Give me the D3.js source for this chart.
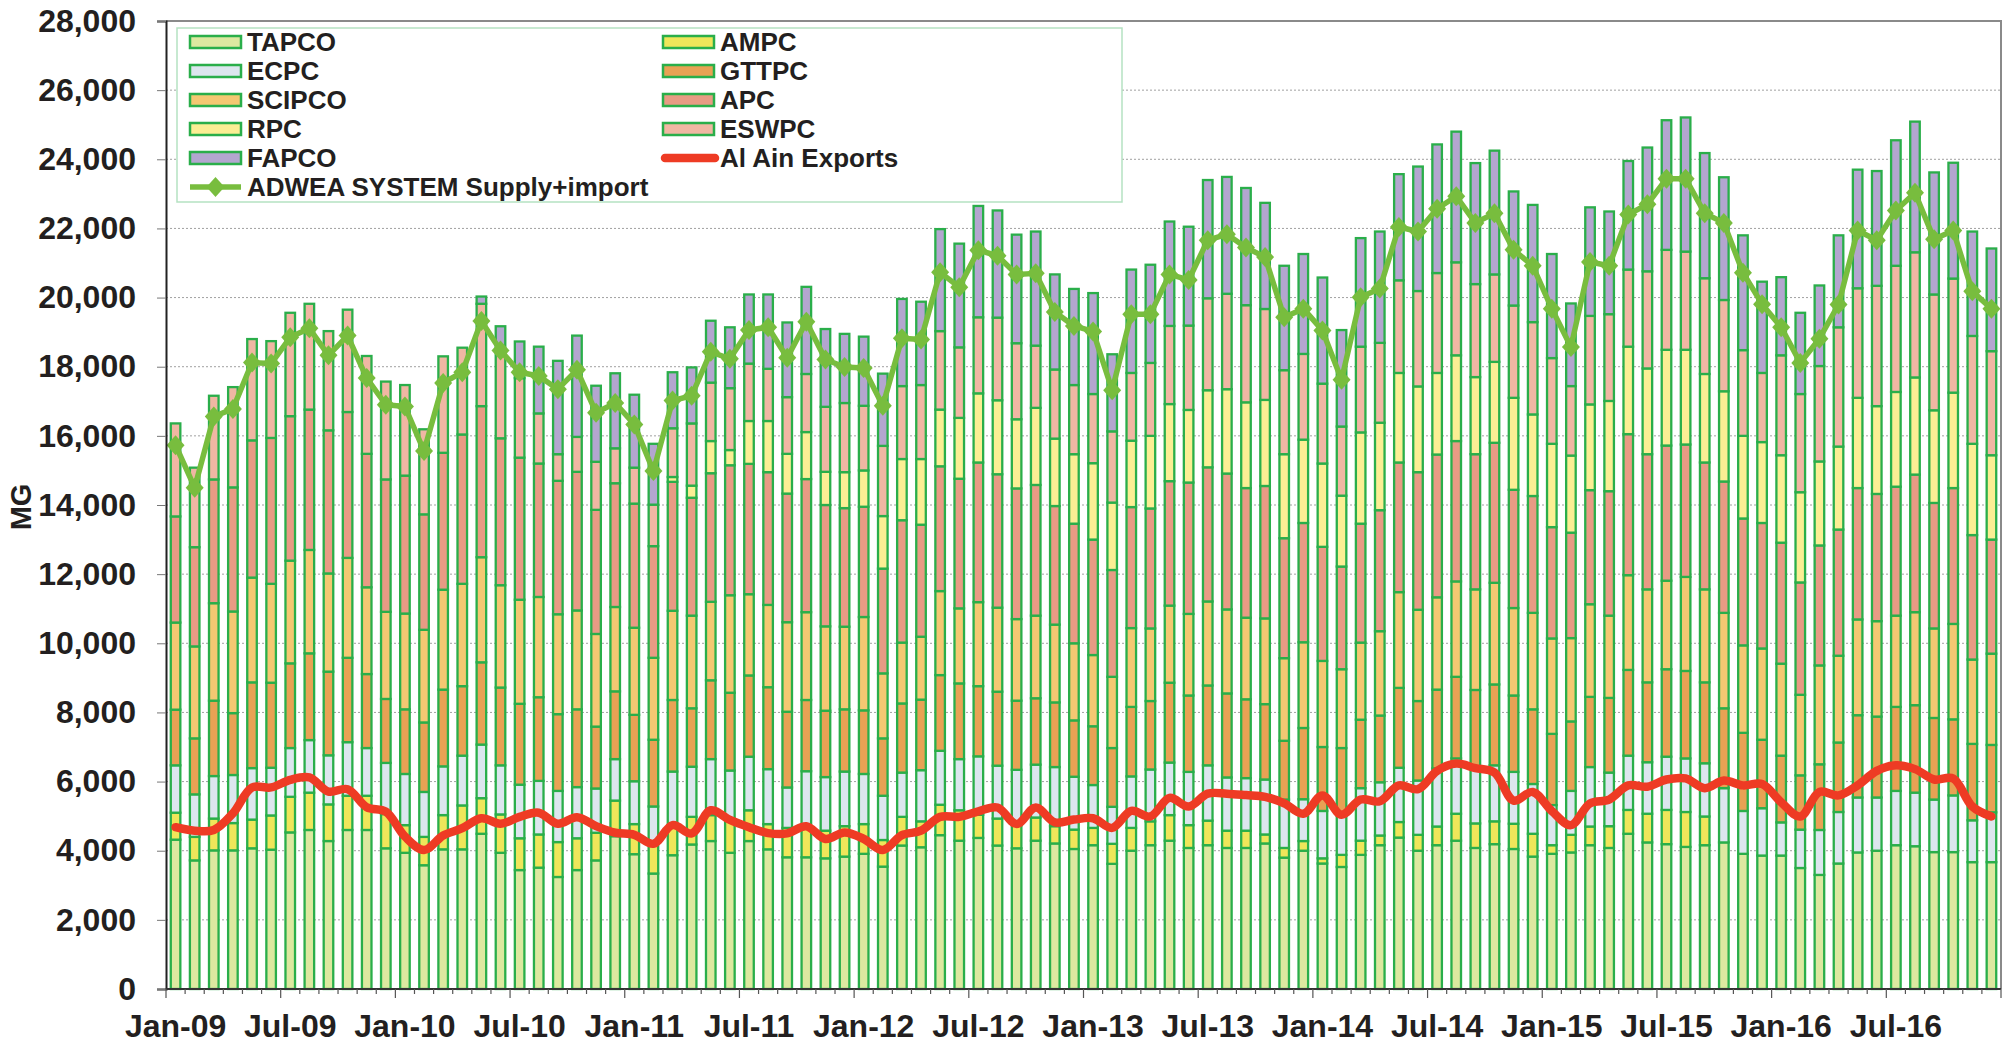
<!DOCTYPE html>
<html>
<head>
<meta charset="utf-8">
<script src="https://cdn.jsdelivr.net/npm/d3@7"></script>
<style>
body{margin:0;background:#fff;}
#canvas{width:2009px;height:1044px;}
text{font-family:"Liberation Sans",Arial,sans-serif;font-weight:bold;fill:#231f20;}
</style>
</head>
<body>
<div id="canvas"></div>
<script>
var months = [
 'Jan-09','Feb-09','Mar-09','Apr-09','May-09','Jun-09','Jul-09','Aug-09','Sep-09','Oct-09','Nov-09','Dec-09',
 'Jan-10','Feb-10','Mar-10','Apr-10','May-10','Jun-10','Jul-10','Aug-10','Sep-10','Oct-10','Nov-10','Dec-10',
 'Jan-11','Feb-11','Mar-11','Apr-11','May-11','Jun-11','Jul-11','Aug-11','Sep-11','Oct-11','Nov-11','Dec-11',
 'Jan-12','Feb-12','Mar-12','Apr-12','May-12','Jun-12','Jul-12','Aug-12','Sep-12','Oct-12','Nov-12','Dec-12',
 'Jan-13','Feb-13','Mar-13','Apr-13','May-13','Jun-13','Jul-13','Aug-13','Sep-13','Oct-13','Nov-13','Dec-13',
 'Jan-14','Feb-14','Mar-14','Apr-14','May-14','Jun-14','Jul-14','Aug-14','Sep-14','Oct-14','Nov-14','Dec-14',
 'Jan-15','Feb-15','Mar-15','Apr-15','May-15','Jun-15','Jul-15','Aug-15','Sep-15','Oct-15','Nov-15','Dec-15',
 'Jan-16','Feb-16','Mar-16','Apr-16','May-16','Jun-16','Jul-16','Aug-16','Sep-16','Oct-16','Nov-16','Dec-16'];

var tapco = [4320,3720,4010,4010,4070,4030,4530,4600,4280,4600,4600,4070,
 3940,3580,4040,4040,4490,3940,3440,3510,3240,3440,3720,4420,
 3900,3340,3870,4180,4280,3940,4280,4040,3810,3810,3780,3830,
 3910,3540,4150,4100,4450,4290,4370,4150,4070,4290,4210,4050,
 4160,3620,4000,4160,4290,4080,4160,4080,4080,4210,3800,4000,
 3630,3530,3880,4160,4380,4000,4160,4290,4080,4190,4050,3830,
 3910,3950,4160,4080,4490,4240,4190,4110,4160,4240,3910,3860,
 3860,3500,3300,3630,3950,4000,4160,4130,3960,3960,3670,3670];
var ampc = [780,680,920,790,830,990,1030,1080,1060,990,990,990,
 800,820,990,1270,1030,1110,920,960,1010,920,800,1030,
 870,870,870,800,750,940,890,730,850,890,800,880,
 860,770,830,750,880,880,670,780,670,670,500,560,
 500,580,660,690,740,660,710,500,500,260,280,280,
 150,350,410,280,450,460,540,780,710,660,730,660,
 250,510,540,630,690,830,990,1010,830,0,0,0,
 0,0,0,0,0,0,0,0,0,0,0,0];
var ecpc = [1370,1230,1230,1390,1490,1380,1410,1520,1420,1550,1380,1480,
 1480,1300,1410,1440,1550,1420,1550,1550,1480,1480,1280,1200,
 1240,1070,1550,1450,1620,1440,1550,1590,1170,1600,1550,1580,
 1450,1280,1280,1480,1560,1480,1690,1530,1600,1530,1710,1530,
 1240,1070,1490,1500,1520,1540,1600,1540,1520,1590,1400,1210,
 1370,1140,1520,1540,1570,1570,1680,1600,1600,1620,1500,1440,
 1160,1270,1720,1550,1570,1490,1540,1550,1540,1570,1240,1370,
 960,1110,1300,1490,1590,1540,1570,1550,1520,1640,1210,1440];
var gttpc = [1610,1620,2180,1790,2480,2460,2450,2510,2420,2440,2140,1850,
 1870,2010,2220,2010,2380,2250,2340,2420,2220,2250,1790,1960,
 1920,1930,2070,1690,2280,2250,2350,2370,2190,2060,1920,1800,
 1840,1660,2000,2040,2190,2190,2030,2140,2000,1920,1870,1630,
 1700,1700,2010,1980,2310,2210,2310,2430,2280,2180,1700,2060,
 1850,1950,1980,1930,2310,2300,2280,2360,2260,2340,2210,2160,
 2060,2010,2030,2160,2480,2310,2530,2530,2340,2310,2260,1980,
 1930,1570,1900,2010,2380,2340,2430,2530,2360,2200,2210,1950];
var scipco = [2520,2660,2820,2940,3030,2860,2970,2990,2840,2890,2510,2520,
 2770,2680,2890,2960,3040,2960,3010,2900,2890,2860,2680,2440,
 2520,2370,2580,2680,2270,2820,2350,2380,2590,2540,2440,2390,
 2700,1880,1760,1820,2430,2170,2430,2430,2360,2390,2250,2230,
 2060,2060,2280,2100,2230,2360,2430,2430,2360,2480,2390,2480,
 2490,2280,2230,2440,2770,2640,2670,2760,2910,2940,2530,2790,
 2760,2410,2680,2380,2740,2690,2560,2720,2690,2760,2530,2640,
 2660,2330,2860,2510,2770,2760,2640,2690,2590,2760,2440,2640];
var apc = [3070,2870,3580,3590,3970,4220,4180,4060,4140,4220,3860,3830,
 3990,3340,3960,4320,4370,4250,4110,3860,3860,4010,3590,3580,
 3590,3230,3730,3410,3720,3760,3770,3840,3720,3850,3510,3430,
 3190,3030,3540,3240,3610,3750,4040,3860,3780,3780,3430,3460,
 3340,3090,3500,3470,3600,3800,3880,3930,3750,3830,3470,3450,
 3300,2970,3440,3500,3750,3980,4130,4060,3910,4050,3420,3380,
 3220,3050,3300,3600,4080,3910,3910,3830,3670,3800,3670,3630,
 3500,3250,3470,3650,3800,3680,3730,3980,3630,3930,3600,3300];
var rpc = [0,0,0,0,0,0,0,0,0,0,0,0,
 0,0,0,0,0,0,0,0,0,0,0,0,
 0,0,140,350,930,440,1240,1480,1150,1360,960,1040,
 1050,1520,1770,1900,1640,1760,2000,2140,2000,2230,1950,2010,
 2210,1950,1920,2100,2230,2100,2230,2440,2480,2490,2430,2410,
 2410,2050,2640,2530,2590,2480,2360,2480,2230,2340,2660,2360,
 2410,2230,2480,2610,2530,2480,2770,2740,2560,2610,2390,2340,
 2530,2610,2430,2400,2610,2540,2740,2810,2680,2760,2640,2440];
var eswpc = [2690,2300,2420,2900,2930,2800,2990,3060,2870,2960,2830,2830,
 2620,2460,2790,2510,2960,2520,2300,1450,770,1010,1390,1010,
 1040,1200,1410,1800,1690,1790,1660,1510,1640,1680,1880,2000,
 1870,2030,2110,2140,2270,2040,2200,2390,2200,1800,2000,2000,
 2000,2060,1960,2110,2260,2440,2660,2760,2810,2630,2430,2480,
 2310,2000,2480,2310,2680,2760,2890,2690,2690,2530,2670,2670,
 2480,2010,2560,2510,2230,2810,2890,2840,2770,2640,2480,2000,
 2890,2840,2760,3450,3170,3480,3650,3620,3350,3300,3120,3010];
var fapco = [0,0,0,0,0,0,0,0,0,0,0,0,
 0,0,0,0,210,720,1060,1930,2700,2930,2200,2170,
 2110,1760,1620,1620,1790,1760,2000,2150,2160,2520,2250,2000,
 2000,2090,2520,2410,2950,3000,3220,3100,3140,3300,2750,2780,
 2920,2230,2990,2840,3020,2860,3420,3380,3390,3070,3020,2890,
 3070,2790,3140,3220,3070,3600,3720,3780,3500,3580,3300,3390,
 3010,2390,3140,2970,3140,3580,3750,3880,3620,3550,3320,2640,
 2260,2350,2330,2660,3430,3320,3630,3780,3530,3350,3020,2970];
var adwea = [15730,14500,16560,16780,18120,18090,18850,19110,18330,18900,17670,16900,
 16850,15560,17530,17840,19320,18470,17840,17730,17350,17910,16670,16950,
 16330,14980,17020,17160,18430,18230,19060,19140,18260,19300,18210,17990,
 17960,16870,18820,18790,20730,20300,21370,21210,20670,20700,19580,19180,
 19020,17320,19520,19520,20670,20510,21660,21830,21450,21170,19430,19680,
 19050,17620,20010,20260,22040,21910,22570,22930,22160,22440,21380,20920,
 19680,18570,21030,20920,22400,22700,23440,23440,22440,22160,20720,19810,
 19140,18110,18810,19800,21940,21660,22520,23030,21690,21940,20180,19680];
var alain = [4680,4580,4600,5080,5830,5830,6050,6120,5710,5780,5260,5130,
 4410,4020,4440,4650,4940,4780,4980,5100,4780,4970,4710,4520,
 4460,4200,4740,4500,5170,4890,4680,4510,4500,4710,4340,4530,
 4340,4020,4450,4580,4980,4980,5140,5250,4770,5250,4820,4900,
 4940,4660,5150,4990,5530,5280,5650,5650,5610,5560,5370,5070,
 5600,5040,5480,5430,5890,5780,6310,6520,6390,6260,5450,5700,
 5150,4740,5370,5480,5890,5850,6060,6090,5810,6030,5890,5930,
 5400,4990,5700,5600,5890,6310,6470,6360,6060,6090,5280,4990];

var seriesNames = ['TAPCO','AMPC','ECPC','GTTPC','SCIPCO','APC','RPC','ESWPC','FAPCO'];
var seriesValues = [tapco, ampc, ecpc, gttpc, scipco, apc, rpc, eswpc, fapco];
var seriesColors = ['#dde8a0','#efe65a','#dce6ee','#e8a254','#f4c872','#e89b84','#fbee94','#f0b7a3','#b3a6cf'];
var yTicks = [0,2000,4000,6000,8000,10000,12000,14000,16000,18000,20000,22000,24000,26000,28000];

var barStroke = '#2aae4a',
    adweaColor = '#78bd3e',
    alainColor = '#ee3b24';

var canvasWidth = 2009,
    canvasHeight = 1044;

var margin = {t:21,r:8,b:55,l:166};
var plotWidth = canvasWidth - margin.l - margin.r,
    plotHeight = canvasHeight - margin.t - margin.b;

var svg = d3.select('#canvas')
	.append('svg')
	.attr('width', canvasWidth)
	.attr('height', canvasHeight);

var plot = svg.append('g')
	.attr('transform', 'translate('+margin.l+','+margin.t+')');

var x = d3.scaleBand()
    .domain(months)
    .range([0, plotWidth])
    .paddingInner(0.5)
    .paddingOuter(0.25);

var y = d3.scaleLinear()
    .domain([0, 28000])
    .range([plotHeight, 0]);

var cx = function(m){ return x(m) + x.bandwidth()/2; };

// gridlines
plot.selectAll('.grid')
    .data(yTicks.slice(1, -1))
    .enter().append('line')
    .attr('x1', 0).attr('x2', plotWidth)
    .attr('y1', function(d){ return y(d); })
    .attr('y2', function(d){ return y(d); })
    .style('stroke', '#a0a0a0')
    .style('stroke-width', 1)
    .style('stroke-dasharray', '2,2');

// plot area border top/right
plot.append('path')
    .attr('d', 'M0,' + y(28000) + 'H' + plotWidth + 'V' + y(0))
    .style('fill', 'none')
    .style('stroke', '#8a8a8a')
    .style('stroke-width', 2);

var table = months.map(function(m, i){
    var row = {month: m};
    seriesNames.forEach(function(s, j){ row[s] = seriesValues[j][i]; });
    return row;
});

var stacked = d3.stack().keys(seriesNames)(table);

plot.selectAll('.layer')
    .data(stacked)
    .enter().append('g')
    .attr('class', 'layer')
    .style('fill', function(d, i){ return seriesColors[i]; })
    .selectAll('rect')
    .data(function(d){ return d.filter(function(p){ return p[1] - p[0] > 0; }); })
    .enter().append('rect')
    .attr('x', function(d){ return x(d.data.month); })
    .attr('y', function(d){ return y(d[1]); })
    .attr('width', x.bandwidth())
    .attr('height', function(d){ return y(d[0]) - y(d[1]); })
    .style('stroke', barStroke)
    .style('stroke-width', 2.3);

// ADWEA supply line with diamonds
var adweaLine = d3.line()
    .x(function(d, i){ return cx(months[i]); })
    .y(function(d){ return y(d); });

plot.append('path')
    .datum(adwea)
    .attr('d', adweaLine)
    .style('fill', 'none')
    .style('stroke', adweaColor)
    .style('stroke-width', 5.5)
    .style('stroke-linejoin', 'round');

var diamond = 'M0,-10L9,0L0,10L-9,0Z';

plot.selectAll('.marker')
    .data(adwea)
    .enter().append('path')
    .attr('d', diamond)
    .attr('transform', function(d, i){ return 'translate(' + cx(months[i]) + ',' + y(d) + ')'; })
    .style('fill', adweaColor);

// Al Ain exports, smoothed
var alainLine = d3.line()
    .curve(d3.curveCatmullRom)
    .x(function(d, i){ return cx(months[i]); })
    .y(function(d){ return y(d); });

plot.append('path')
    .datum(alain)
    .attr('d', alainLine)
    .style('fill', 'none')
    .style('stroke', alainColor)
    .style('stroke-width', 8.5)
    .style('stroke-linecap', 'round')
    .style('stroke-linejoin', 'round');

// y axis
var yAxis = plot.append('g')
    .call(d3.axisLeft(y).tickValues(yTicks).tickSize(9).tickPadding(21).tickFormat(d3.format(',')));
yAxis.select('.domain').style('stroke', '#222').style('stroke-width', 2);
yAxis.selectAll('.tick line').style('stroke', '#777');
yAxis.selectAll('text')
    .style('font-size', '32px')
    .style('font-family', '"Liberation Sans", Arial, sans-serif')
    .style('font-weight', 'bold')
    .style('fill', '#231f20');

// x axis
plot.append('line')
    .attr('x1', 0).attr('x2', plotWidth)
    .attr('y1', plotHeight).attr('y2', plotHeight)
    .style('stroke', '#333')
    .style('stroke-width', 2);

plot.selectAll('.xtick')
    .data(d3.range(months.length + 1))
    .enter().append('line')
    .attr('x1', function(i){ return i * x.step(); })
    .attr('x2', function(i){ return i * x.step(); })
    .attr('y1', plotHeight)
    .attr('y2', function(i){ return plotHeight + (i % 6 === 0 ? 9 : 5); })
    .style('stroke', '#555')
    .style('stroke-width', 1.2);

plot.selectAll('.xlabel')
    .data(months.filter(function(m, i){ return i % 6 === 0; }))
    .enter().append('text')
    .attr('x', function(m){ return cx(m); })
    .attr('y', plotHeight + 48)
    .attr('text-anchor', 'middle')
    .style('font-size', '32px')
    .text(function(m){ return m; });

svg.append('text')
    .attr('transform', 'translate(21,507) rotate(-90)')
    .attr('text-anchor', 'middle')
    .attr('dominant-baseline', 'central')
    .style('font-size', '29px')
    .text('MG');

// legend
var legend = svg.append('g');

legend.append('rect')
    .attr('x', 177).attr('y', 28)
    .attr('width', 945).attr('height', 174)
    .style('fill', '#fff')
    .style('stroke', '#b5e2c2')
    .style('stroke-width', 1.5);

var legendItems = seriesNames.map(function(s, i){ return {name: s, type: 'bar', color: seriesColors[i]}; });
legendItems.push({name: 'Al Ain Exports', type: 'red'});
legendItems.push({name: 'ADWEA SYSTEM Supply+import', type: 'green'});

var colX = [190, 663];

var item = legend.selectAll('.item')
    .data(legendItems)
    .enter().append('g')
    .attr('transform', function(d, i){ return 'translate(' + colX[i % 2] + ',' + (42 + Math.floor(i / 2) * 29) + ')'; });

item.filter(function(d){ return d.type === 'bar'; })
    .append('rect')
    .attr('x', 0).attr('y', -6)
    .attr('width', 51).attr('height', 12)
    .style('fill', function(d){ return d.color; })
    .style('stroke', barStroke)
    .style('stroke-width', 2.5);

item.filter(function(d){ return d.type === 'red'; })
    .append('line')
    .attr('x1', 2).attr('x2', 52)
    .style('stroke', alainColor)
    .style('stroke-width', 8.5)
    .style('stroke-linecap', 'round');

var g = item.filter(function(d){ return d.type === 'green'; });
g.append('line')
    .attr('x1', 0).attr('x2', 51)
    .style('stroke', adweaColor)
    .style('stroke-width', 5.5);
g.append('path')
    .attr('d', diamond)
    .attr('transform', 'translate(25.5,0)')
    .style('fill', adweaColor);

item.append('text')
    .attr('x', 57)
    .attr('dominant-baseline', 'central')
    .style('font-size', '26px')
    .text(function(d){ return d.name; });
</script>
</body>
</html>
